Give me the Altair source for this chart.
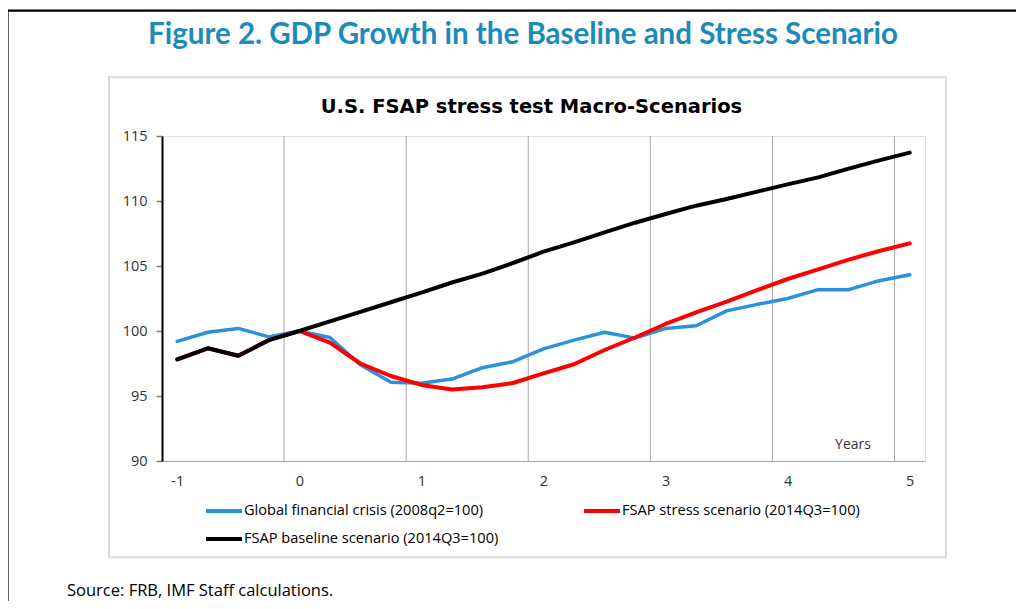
import altair as alt
import pandas as pd

# ---------------- data ----------------
quarters = list(range(-4, 21))  # quarters relative to the start of the scenario
series_names = [
    "Global financial crisis (2008q2=100)",
    "FSAP baseline scenario (2014Q3=100)",
    "FSAP stress  scenario (2014Q3=100)",
]
gfc = [99.2, 99.9, 100.2, 99.55, 100.0, 99.5, 97.4, 96.05, 95.98, 96.3, 97.18, 97.64,
       98.62, 99.3, 99.9, 99.45, 100.2, 100.4, 101.55, 102.05, 102.5, 103.18, 103.18,
       103.87, 104.33]
baseline = [97.82, 98.67, 98.1, 99.3, 100.0, 100.74, 101.47, 102.21, 102.95, 103.73,
            104.41, 105.23, 106.1, 106.82, 107.59, 108.33, 109.0, 109.64, 110.15, 110.72,
            111.28, 111.82, 112.49, 113.13, 113.72]
stress = [97.82, 98.67, 98.1, 99.3, 100.0, 99.1, 97.5, 96.54, 95.85, 95.5, 95.68, 96.0,
          96.74, 97.44, 98.54, 99.5, 100.54, 101.44, 102.26, 103.15, 104.0, 104.74,
          105.49, 106.15, 106.74]
x_tick_years = [-1, 0, 1, 2, 3, 4, 5]
y_ticks = [90, 95, 100, 105, 110, 115]
grid_years = [-0.125, 0.875, 1.875, 2.875, 3.875, 4.875]
colors = ["#2A92DA", "#000000", "#FF0000"]

rows = []
for name, vals in zip(series_names, [gfc, baseline, stress]):
    for q, v in zip(quarters, vals):
        rows.append({"series": name, "year": q / 4.0, "value": v})
df = pd.DataFrame(rows)
grid_df = pd.DataFrame({"year": grid_years})
one = pd.DataFrame({"a": [0]})

W, H = 763, 325
FONT = "Open Sans"

x_enc = alt.X(
    "year:Q",
    scale=alt.Scale(domain=[-1.125, 5.125], nice=False, zero=False),
    axis=alt.Axis(
        values=x_tick_years, title=None, grid=False, ticks=False,
        domainColor="#a6a6a6", domainWidth=1, labelPadding=13,
        labelFont=FONT, labelFontSize=14.5, labelColor="#333333",
        labelExpr="toString(datum.value)", labelFlush=False,
    ),
)
y_enc = alt.Y(
    "value:Q",
    scale=alt.Scale(domain=[90, 115], nice=False, zero=False),
    axis=alt.Axis(
        values=y_ticks, title=None, grid=False, domainColor="#000000",
        domainWidth=2, tickColor="#7f7f7f", tickSize=6, tickWidth=1.5,
        labelPadding=9, labelFont=FONT, labelFontSize=14.5, labelColor="#333333",
    ),
)
color_enc = alt.Color(
    "series:N",
    scale=alt.Scale(domain=series_names, range=colors),
    legend=alt.Legend(
        title=None, orient="none", legendX=42, legendY=355, columns=2,
        symbolType="stroke", symbolSize=1296, symbolStrokeWidth=4,
        labelFont=FONT, labelFontSize=14.6, labelColor="#000000", labelOffset=0,
        columnPadding=77, rowPadding=-20, padding=0, labelLimit=400,
    ),
)

grid = alt.Chart(grid_df).mark_rule(color="#a6a6a6", strokeWidth=1).encode(
    x=alt.X("year:Q")
)

def line(name, width):
    return (
        alt.Chart(df)
        .transform_filter(alt.datum.series == name)
        .mark_line(strokeWidth=width, strokeCap="round", strokeJoin="round")
        .encode(x=x_enc, y=y_enc, color=color_enc)
    )

blue = line(series_names[0], 3.5)
red = line(series_names[2], 4)
black = line(series_names[1], 4)

def text(t, x, y, size, weight="normal", color="#000000", align="center",
         font=FONT, baseline="middle"):
    return alt.Chart(one).mark_text(
        text=t, font=font, fontSize=size, fontWeight=weight, color=color,
        align=align, baseline=baseline,
    ).encode(x=alt.value(x), y=alt.value(y))

title = text("Figure 2. GDP Growth in the Baseline and Stress Scenario", 361, -101, 29.5,
             weight="bold", color="#1B8BB9", font="Lato")
subtitle = text("U.S. FSAP stress test Macro-Scenarios", 369.5, -29.5, 19.5,
                weight="bold", font="DejaVu Sans")
years = text("Years", 691, 309, 14, color="#333333")
source = text("Source: FRB, IMF Staff calculations.", -95, 460, 16.5, align="left",
              baseline="alphabetic")

box = alt.Chart(one).mark_rect(fillOpacity=0, stroke="#d9d9d9", strokeWidth=2).encode(
    x=alt.value(-53), x2=alt.value(784), y=alt.value(-58.7), y2=alt.value(421.3)
)
frame_top = alt.Chart(one).mark_rule(color="#000000", strokeWidth=2.2).encode(
    x=alt.value(-155), x2=alt.value(870), y=alt.value(-125.3)
)
frame_left = alt.Chart(one).mark_rule(color="#000000", strokeWidth=2.2).encode(
    x=alt.value(-154.5), y=alt.value(-126.3), y2=alt.value(470)
)

chart = (
    alt.layer(grid, blue, red, black, box, frame_top, frame_left,
              title, subtitle, years, source)
    .properties(
        width=W, height=H,
        autosize=alt.AutoSizeParams(type="none"),
        padding={"left": 154, "top": 128, "right": 91, "bottom": 140},
    )
    .configure_view(stroke=None)
    .configure(background="#ffffff")
)

chart.save("out.html", embed_options={"renderer": "svg", "actions": False})
